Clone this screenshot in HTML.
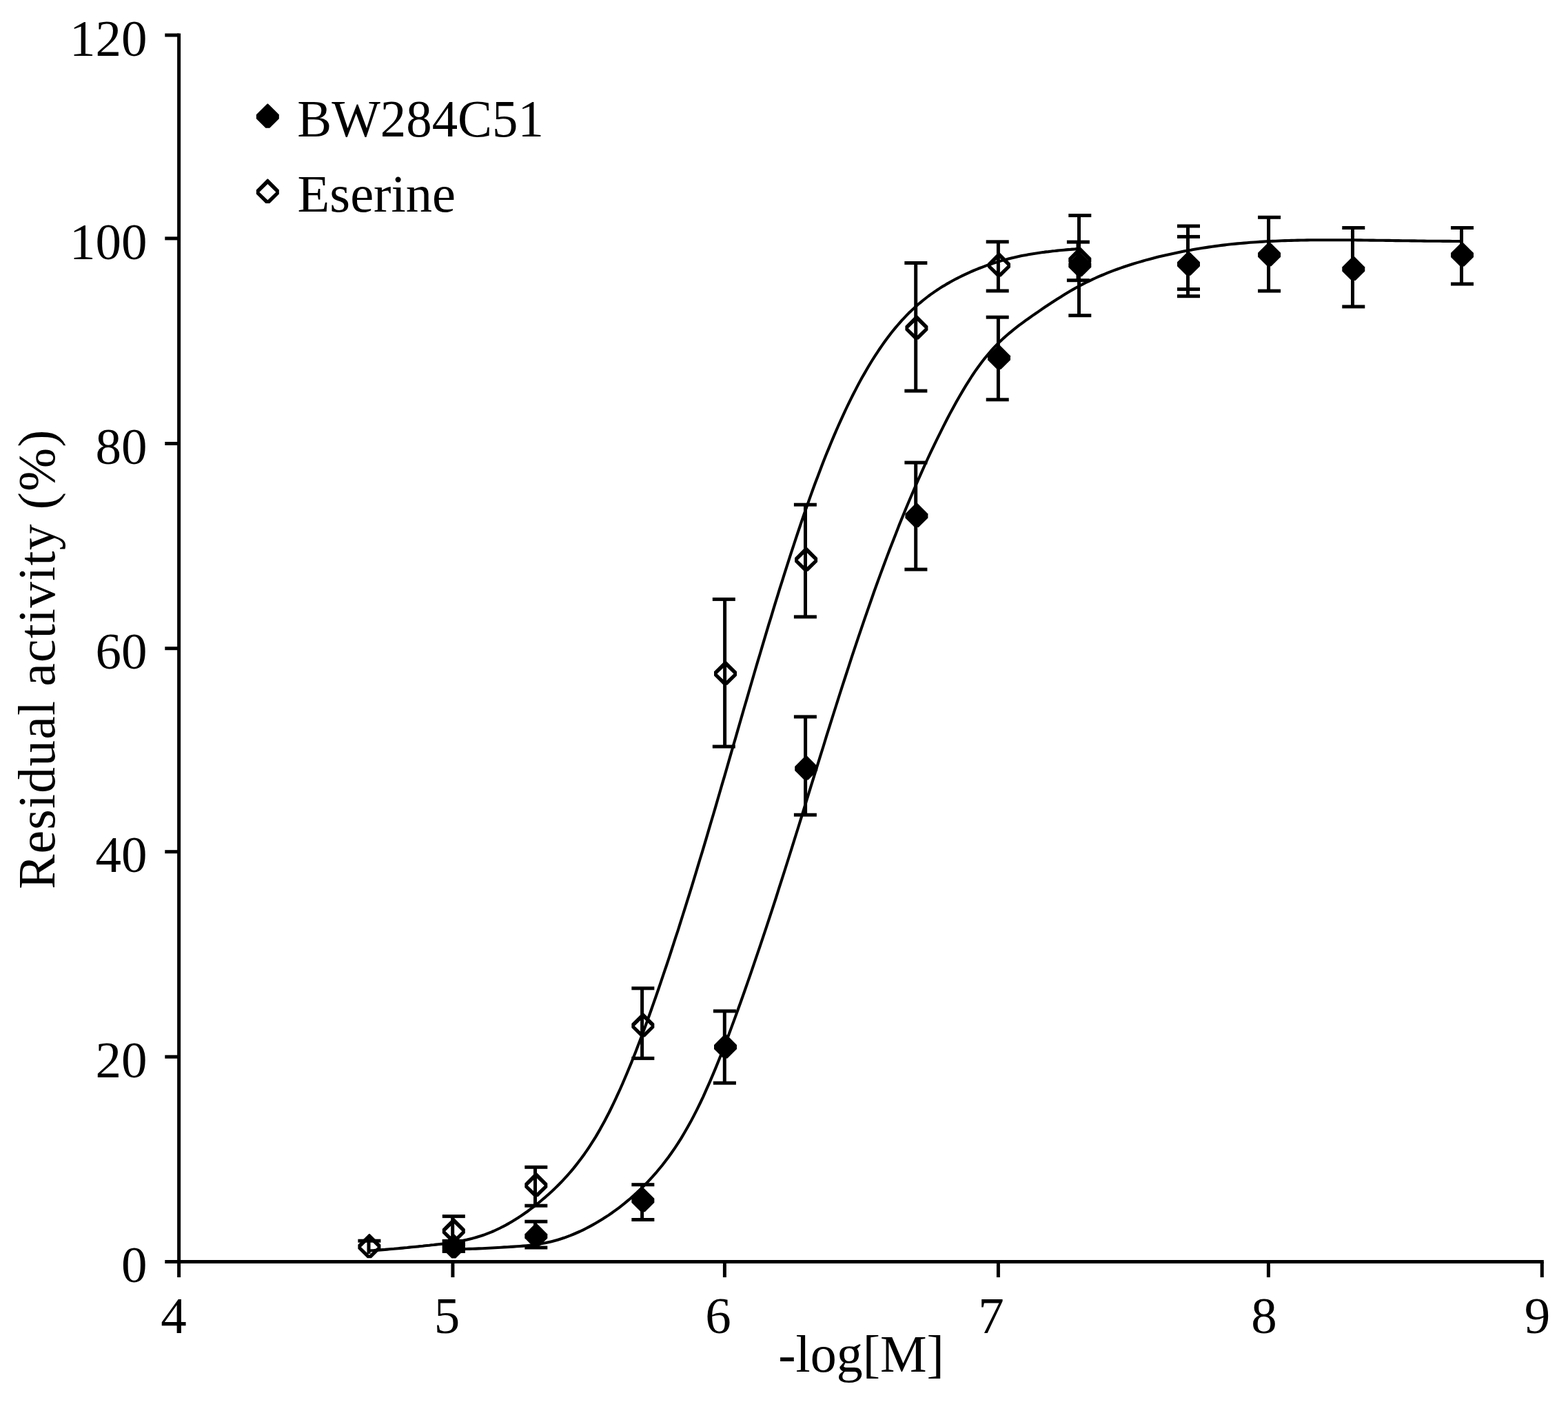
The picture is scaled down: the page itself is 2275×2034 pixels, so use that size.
<!DOCTYPE html>
<html lang="en">
<head>
<meta charset="utf-8">
<title>Residual activity vs -log[M]</title>
<style>
html,body{margin:0;padding:0;background:#fff;}
body{width:2275px;height:2034px;overflow:hidden;}
svg{display:block;}
</style>
</head>
<body>
<svg xmlns="http://www.w3.org/2000/svg" width="2275" height="2034" viewBox="0 0 2275 2034">
<rect x="0" y="0" width="2275" height="2034" fill="#fff"/>
<g fill="#000">
<rect x="257.10" y="48.50" width="5.00" height="1804.60"/>
<rect x="239.30" y="1828.00" width="2000.50" height="5.00"/>
<rect x="239.30" y="48.50" width="20.30" height="5.00"/>
<rect x="239.30" y="343.40" width="20.30" height="5.00"/>
<rect x="239.30" y="641.00" width="20.30" height="5.00"/>
<rect x="239.30" y="938.20" width="20.30" height="5.00"/>
<rect x="239.30" y="1233.20" width="20.30" height="5.00"/>
<rect x="239.30" y="1530.70" width="20.30" height="5.00"/>
<rect x="654.40" y="1830.50" width="5.00" height="22.60"/>
<rect x="1048.90" y="1830.50" width="5.00" height="22.60"/>
<rect x="1445.90" y="1830.50" width="5.00" height="22.60"/>
<rect x="1837.90" y="1830.50" width="5.00" height="22.60"/>
<rect x="2234.80" y="1830.50" width="5.00" height="22.60"/>
</g>
<path d="M536.0,1814.5 L539.2,1814.3 L542.4,1814.1 L545.7,1813.8 L548.9,1813.6 L552.1,1813.4 L555.3,1813.1 L558.5,1812.9 L561.8,1812.6 L565.0,1812.3 L568.2,1812.0 L571.4,1811.8 L574.6,1811.5 L577.8,1811.2 L581.1,1810.9 L584.3,1810.6 L587.5,1810.3 L590.7,1810.0 L593.9,1809.6 L597.2,1809.3 L600.4,1809.0 L603.6,1808.7 L606.8,1808.4 L610.0,1808.0 L613.3,1807.7 L616.5,1807.3 L619.7,1807.0 L622.9,1806.7 L626.1,1806.3 L629.4,1806.0 L632.6,1805.6 L635.8,1805.2 L639.0,1804.9 L642.2,1804.5 L645.5,1804.0 L648.7,1803.6 L651.9,1803.2 L655.1,1802.7 L658.3,1802.2 L661.5,1801.7 L664.8,1801.1 L668.0,1800.5 L671.2,1799.9 L674.4,1799.2 L677.6,1798.5 L680.9,1797.7 L684.1,1797.0 L687.3,1796.1 L690.5,1795.2 L693.7,1794.3 L697.0,1793.3 L700.2,1792.2 L703.4,1791.1 L706.6,1789.9 L709.8,1788.7 L713.1,1787.4 L716.3,1786.0 L719.5,1784.5 L722.7,1783.0 L725.9,1781.5 L729.1,1779.8 L732.4,1778.2 L735.6,1776.4 L738.8,1774.6 L742.0,1772.7 L745.2,1770.8 L748.5,1768.8 L751.7,1766.8 L754.9,1764.6 L758.1,1762.5 L761.3,1760.3 L764.6,1758.0 L767.8,1755.6 L771.0,1753.2 L774.2,1750.8 L777.4,1748.3 L780.7,1745.7 L783.9,1743.0 L787.1,1740.3 L790.3,1737.6 L793.5,1734.8 L796.7,1731.9 L800.0,1729.0 L803.2,1726.0 L806.4,1722.9 L809.6,1719.7 L812.8,1716.5 L816.1,1713.1 L819.3,1709.7 L822.5,1706.2 L825.7,1702.5 L828.9,1698.8 L832.2,1694.9 L835.4,1690.9 L838.6,1686.8 L841.8,1682.6 L845.0,1678.2 L848.3,1673.7 L851.5,1669.1 L854.7,1664.3 L857.9,1659.4 L861.1,1654.3 L864.4,1649.1 L867.6,1643.6 L870.8,1638.1 L874.0,1632.3 L877.2,1626.4 L880.4,1620.3 L883.7,1614.0 L886.9,1607.5 L890.1,1600.9 L893.3,1594.1 L896.5,1587.1 L899.8,1580.0 L903.0,1572.7 L906.2,1565.3 L909.4,1557.7 L912.6,1550.0 L915.9,1542.1 L919.1,1534.1 L922.3,1525.9 L925.5,1517.6 L928.7,1509.2 L932.0,1500.6 L935.2,1491.9 L938.4,1483.1 L941.6,1474.2 L944.8,1465.2 L948.0,1456.1 L951.3,1446.8 L954.5,1437.5 L957.7,1428.1 L960.9,1418.7 L964.1,1409.1 L967.4,1399.5 L970.6,1389.8 L973.8,1380.0 L977.0,1370.2 L980.2,1360.2 L983.5,1350.3 L986.7,1340.2 L989.9,1330.0 L993.1,1319.8 L996.3,1309.6 L999.6,1299.2 L1002.8,1288.8 L1006.0,1278.3 L1009.2,1267.8 L1012.4,1257.2 L1015.6,1246.5 L1018.9,1235.8 L1022.1,1225.1 L1025.3,1214.3 L1028.5,1203.4 L1031.7,1192.5 L1035.0,1181.5 L1038.2,1170.6 L1041.4,1159.5 L1044.6,1148.5 L1047.8,1137.4 L1051.1,1126.3 L1054.3,1115.2 L1057.5,1104.0 L1060.7,1092.9 L1063.9,1081.7 L1067.2,1070.6 L1070.4,1059.4 L1073.6,1048.3 L1076.8,1037.1 L1080.0,1026.0 L1083.3,1014.9 L1086.5,1003.8 L1089.7,992.8 L1092.9,981.8 L1096.1,970.8 L1099.3,959.9 L1102.6,949.0 L1105.8,938.1 L1109.0,927.3 L1112.2,916.6 L1115.4,905.9 L1118.7,895.3 L1121.9,884.7 L1125.1,874.2 L1128.3,863.8 L1131.5,853.4 L1134.8,843.1 L1138.0,832.9 L1141.2,822.8 L1144.4,812.8 L1147.6,802.8 L1150.9,792.9 L1154.1,783.2 L1157.3,773.5 L1160.5,764.0 L1163.7,754.5 L1166.9,745.2 L1170.2,736.0 L1173.4,726.9 L1176.6,717.9 L1179.8,709.0 L1183.0,700.3 L1186.3,691.7 L1189.5,683.2 L1192.7,674.8 L1195.9,666.6 L1199.1,658.5 L1202.4,650.6 L1205.6,642.8 L1208.8,635.1 L1212.0,627.6 L1215.2,620.2 L1218.5,612.9 L1221.7,605.8 L1224.9,598.8 L1228.1,592.0 L1231.3,585.3 L1234.5,578.8 L1237.8,572.3 L1241.0,566.1 L1244.2,559.9 L1247.4,553.9 L1250.6,548.1 L1253.9,542.4 L1257.1,536.8 L1260.3,531.3 L1263.5,526.0 L1266.7,520.8 L1270.0,515.7 L1273.2,510.8 L1276.4,506.0 L1279.6,501.3 L1282.8,496.8 L1286.1,492.3 L1289.3,488.0 L1292.5,483.8 L1295.7,479.8 L1298.9,475.9 L1302.2,472.0 L1305.4,468.3 L1308.6,464.7 L1311.8,461.3 L1315.0,457.9 L1318.2,454.6 L1321.5,451.5 L1324.7,448.4 L1327.9,445.5 L1331.1,442.6 L1334.3,439.8 L1337.6,437.1 L1340.8,434.5 L1344.0,432.0 L1347.2,429.5 L1350.4,427.2 L1353.7,424.9 L1356.9,422.6 L1360.1,420.5 L1363.3,418.4 L1366.5,416.3 L1369.8,414.4 L1373.0,412.4 L1376.2,410.6 L1379.4,408.8 L1382.6,407.0 L1385.8,405.3 L1389.1,403.6 L1392.3,402.0 L1395.5,400.4 L1398.7,398.8 L1401.9,397.3 L1405.2,395.8 L1408.4,394.4 L1411.6,393.0 L1414.8,391.6 L1418.0,390.3 L1421.3,389.0 L1424.5,387.8 L1427.7,386.6 L1430.9,385.4 L1434.1,384.3 L1437.4,383.2 L1440.6,382.1 L1443.8,381.1 L1447.0,380.1 L1450.2,379.1 L1453.4,378.1 L1456.7,377.2 L1459.9,376.4 L1463.1,375.5 L1466.3,374.7 L1469.5,373.9 L1472.8,373.2 L1476.0,372.5 L1479.2,371.8 L1482.4,371.1 L1485.6,370.5 L1488.9,369.9 L1492.1,369.3 L1495.3,368.7 L1498.5,368.2 L1501.7,367.7 L1505.0,367.2 L1508.2,366.7 L1511.4,366.3 L1514.6,365.9 L1517.8,365.4 L1521.1,365.1 L1524.3,364.7 L1527.5,364.3 L1530.7,364.0 L1533.9,363.6 L1537.1,363.3 L1540.4,363.0 L1543.6,362.7 L1546.8,362.4 L1550.0,362.1 L1553.2,361.9 L1556.5,361.6 L1559.7,361.4 L1562.9,361.1" fill="none" stroke="#000" stroke-width="4.1" stroke-linejoin="round" stroke-linecap="butt"/>
<path d="M658.0,1812.1 L662.6,1812.2 L667.2,1812.2 L671.8,1812.1 L676.3,1812.0 L680.9,1811.9 L685.5,1811.8 L690.1,1811.6 L694.7,1811.4 L699.3,1811.2 L703.9,1811.0 L708.5,1810.7 L713.0,1810.5 L717.6,1810.2 L722.2,1810.0 L726.8,1809.7 L731.4,1809.4 L736.0,1809.2 L740.6,1808.9 L745.1,1808.6 L749.7,1808.3 L754.3,1808.0 L758.9,1807.6 L763.5,1807.2 L768.1,1806.7 L772.7,1806.2 L777.3,1805.6 L781.8,1804.9 L786.4,1804.1 L791.0,1803.3 L795.6,1802.3 L800.2,1801.2 L804.8,1800.0 L809.4,1798.7 L814.0,1797.3 L818.5,1795.8 L823.1,1794.1 L827.7,1792.4 L832.3,1790.5 L836.9,1788.5 L841.5,1786.5 L846.1,1784.3 L850.6,1782.0 L855.2,1779.6 L859.8,1777.1 L864.4,1774.5 L869.0,1771.8 L873.6,1769.0 L878.2,1766.1 L882.8,1763.1 L887.3,1760.0 L891.9,1756.7 L896.5,1753.3 L901.1,1749.8 L905.7,1746.2 L910.3,1742.4 L914.9,1738.5 L919.4,1734.5 L924.0,1730.3 L928.6,1725.9 L933.2,1721.4 L937.8,1716.8 L942.4,1711.9 L947.0,1706.9 L951.6,1701.7 L956.1,1696.3 L960.7,1690.7 L965.3,1684.8 L969.9,1678.7 L974.5,1672.3 L979.1,1665.6 L983.7,1658.7 L988.3,1651.4 L992.8,1643.8 L997.4,1635.8 L1002.0,1627.6 L1006.6,1618.9 L1011.2,1609.9 L1015.8,1600.5 L1020.4,1590.8 L1024.9,1580.7 L1029.5,1570.3 L1034.1,1559.6 L1038.7,1548.6 L1043.3,1537.3 L1047.9,1525.7 L1052.5,1513.9 L1057.1,1501.8 L1061.6,1489.6 L1066.2,1477.1 L1070.8,1464.5 L1075.4,1451.7 L1080.0,1438.7 L1084.6,1425.6 L1089.2,1412.4 L1093.7,1399.1 L1098.3,1385.7 L1102.9,1372.1 L1107.5,1358.4 L1112.1,1344.6 L1116.7,1330.7 L1121.3,1316.6 L1125.9,1302.5 L1130.4,1288.2 L1135.0,1273.9 L1139.6,1259.5 L1144.2,1245.0 L1148.8,1230.4 L1153.4,1215.7 L1158.0,1201.0 L1162.6,1186.2 L1167.1,1171.4 L1171.7,1156.6 L1176.3,1141.7 L1180.9,1126.9 L1185.5,1112.0 L1190.1,1097.2 L1194.7,1082.5 L1199.2,1067.7 L1203.8,1053.1 L1208.4,1038.5 L1213.0,1024.0 L1217.6,1009.5 L1222.2,995.2 L1226.8,981.0 L1231.4,966.9 L1235.9,952.9 L1240.5,939.1 L1245.1,925.4 L1249.7,911.8 L1254.3,898.4 L1258.9,885.1 L1263.5,872.0 L1268.0,859.0 L1272.6,846.2 L1277.2,833.6 L1281.8,821.2 L1286.4,808.9 L1291.0,796.8 L1295.6,784.9 L1300.2,773.2 L1304.7,761.6 L1309.3,750.2 L1313.9,739.0 L1318.5,728.0 L1323.1,717.2 L1327.7,706.5 L1332.3,696.0 L1336.9,685.7 L1341.4,675.5 L1346.0,665.5 L1350.6,655.7 L1355.2,646.1 L1359.8,636.6 L1364.4,627.3 L1369.0,618.1 L1373.5,609.2 L1378.1,600.4 L1382.7,591.9 L1387.3,583.5 L1391.9,575.4 L1396.5,567.6 L1401.1,559.9 L1405.7,552.6 L1410.2,545.5 L1414.8,538.7 L1419.4,532.2 L1424.0,526.0 L1428.6,520.1 L1433.2,514.5 L1437.8,509.2 L1442.3,504.2 L1446.9,499.4 L1451.5,494.9 L1456.1,490.6 L1460.7,486.5 L1465.3,482.6 L1469.9,478.8 L1474.5,475.2 L1479.0,471.7 L1483.6,468.3 L1488.2,464.9 L1492.8,461.7 L1497.4,458.4 L1502.0,455.3 L1506.6,452.1 L1511.2,448.9 L1515.7,445.8 L1520.3,442.7 L1524.9,439.7 L1529.5,436.7 L1534.1,433.8 L1538.7,430.9 L1543.3,428.0 L1547.8,425.2 L1552.4,422.5 L1557.0,419.9 L1561.6,417.3 L1566.2,414.8 L1570.8,412.4 L1575.4,410.0 L1580.0,407.8 L1584.5,405.6 L1589.1,403.5 L1593.7,401.4 L1598.3,399.5 L1602.9,397.6 L1607.5,395.7 L1612.1,393.9 L1616.6,392.2 L1621.2,390.5 L1625.8,388.9 L1630.4,387.3 L1635.0,385.8 L1639.6,384.3 L1644.2,382.8 L1648.8,381.4 L1653.3,380.1 L1657.9,378.7 L1662.5,377.4 L1667.1,376.2 L1671.7,375.0 L1676.3,373.8 L1680.9,372.6 L1685.5,371.5 L1690.0,370.4 L1694.6,369.4 L1699.2,368.4 L1703.8,367.4 L1708.4,366.4 L1713.0,365.5 L1717.6,364.6 L1722.1,363.7 L1726.7,362.9 L1731.3,362.1 L1735.9,361.3 L1740.5,360.5 L1745.1,359.8 L1749.7,359.1 L1754.3,358.4 L1758.8,357.7 L1763.4,357.1 L1768.0,356.5 L1772.6,355.9 L1777.2,355.4 L1781.8,354.8 L1786.4,354.3 L1790.9,353.9 L1795.5,353.4 L1800.1,353.0 L1804.7,352.6 L1809.3,352.2 L1813.9,351.8 L1818.5,351.5 L1823.1,351.2 L1827.6,350.9 L1832.2,350.6 L1836.8,350.3 L1841.4,350.1 L1846.0,349.9 L1850.6,349.7 L1855.2,349.5 L1859.8,349.3 L1864.3,349.1 L1868.9,349.0 L1873.5,348.9 L1878.1,348.7 L1882.7,348.6 L1887.3,348.5 L1891.9,348.5 L1896.4,348.4 L1901.0,348.3 L1905.6,348.3 L1910.2,348.2 L1914.8,348.2 L1919.4,348.2 L1924.0,348.2 L1928.6,348.2 L1933.1,348.2 L1937.7,348.2 L1942.3,348.2 L1946.9,348.2 L1951.5,348.2 L1956.1,348.3 L1960.7,348.3 L1965.2,348.3 L1969.8,348.4 L1974.4,348.4 L1979.0,348.5 L1983.6,348.5 L1988.2,348.6 L1992.8,348.6 L1997.4,348.7 L2001.9,348.7 L2006.5,348.8 L2011.1,348.9 L2015.7,348.9 L2020.3,349.0 L2024.9,349.1 L2029.5,349.1 L2034.1,349.2 L2038.6,349.2 L2043.2,349.3 L2047.8,349.4 L2052.4,349.4 L2057.0,349.5 L2061.6,349.5 L2066.2,349.6 L2070.7,349.7 L2075.3,349.7 L2079.9,349.7 L2084.5,349.8 L2089.1,349.8 L2093.7,349.9 L2098.3,349.9 L2102.9,349.9 L2107.4,350.0 L2112.0,350.0 L2116.6,350.0 L2121.2,350.0" fill="none" stroke="#000" stroke-width="4.1" stroke-linejoin="round" stroke-linecap="butt"/>
<g fill="#000">
<rect x="532.50" y="1800.20" width="5.00" height="18.80"/>
<rect x="519.40" y="1797.70" width="33.00" height="5.00"/>
<rect x="654.20" y="1764.60" width="5.00" height="40.40"/>
<rect x="641.80" y="1762.10" width="33.00" height="5.00"/>
<rect x="641.80" y="1802.50" width="33.00" height="5.00"/>
<rect x="774.00" y="1693.30" width="5.00" height="55.90"/>
<rect x="761.30" y="1690.80" width="33.00" height="5.00"/>
<rect x="761.30" y="1746.70" width="33.00" height="5.00"/>
<rect x="929.10" y="1433.80" width="5.00" height="101.60"/>
<rect x="916.35" y="1431.30" width="33.00" height="5.00"/>
<rect x="916.35" y="1532.90" width="33.00" height="5.00"/>
<rect x="1049.10" y="869.40" width="5.00" height="213.70"/>
<rect x="1033.80" y="866.90" width="33.00" height="5.00"/>
<rect x="1033.80" y="1080.60" width="33.00" height="5.00"/>
<rect x="1166.00" y="732.20" width="5.00" height="162.70"/>
<rect x="1151.90" y="729.70" width="33.00" height="5.00"/>
<rect x="1151.90" y="892.40" width="33.00" height="5.00"/>
<rect x="1326.20" y="381.50" width="5.00" height="185.60"/>
<rect x="1312.35" y="379.00" width="33.00" height="5.00"/>
<rect x="1312.35" y="564.60" width="33.00" height="5.00"/>
<rect x="1445.90" y="350.80" width="5.00" height="71.20"/>
<rect x="1430.70" y="348.30" width="33.00" height="5.00"/>
<rect x="1430.70" y="419.50" width="33.00" height="5.00"/>
<rect x="1561.50" y="351.10" width="5.00" height="55.60"/>
<rect x="1547.90" y="348.60" width="33.00" height="5.00"/>
<rect x="1547.90" y="404.20" width="33.00" height="5.00"/>
<rect x="654.20" y="1800.40" width="5.00" height="14.90"/>
<rect x="641.80" y="1797.90" width="33.00" height="5.00"/>
<rect x="641.80" y="1812.80" width="33.00" height="5.00"/>
<rect x="774.00" y="1772.20" width="5.00" height="37.80"/>
<rect x="761.30" y="1769.70" width="33.00" height="5.00"/>
<rect x="761.30" y="1807.50" width="33.00" height="5.00"/>
<rect x="929.10" y="1718.70" width="5.00" height="50.80"/>
<rect x="916.35" y="1716.20" width="33.00" height="5.00"/>
<rect x="916.35" y="1767.00" width="33.00" height="5.00"/>
<rect x="1048.80" y="1466.90" width="5.00" height="104.30"/>
<rect x="1034.90" y="1464.40" width="33.00" height="5.00"/>
<rect x="1034.90" y="1568.70" width="33.00" height="5.00"/>
<rect x="1166.10" y="1039.90" width="5.00" height="142.30"/>
<rect x="1151.90" y="1037.40" width="33.00" height="5.00"/>
<rect x="1151.90" y="1179.70" width="33.00" height="5.00"/>
<rect x="1326.20" y="671.10" width="5.00" height="155.00"/>
<rect x="1312.40" y="668.60" width="33.00" height="5.00"/>
<rect x="1312.40" y="823.60" width="33.00" height="5.00"/>
<rect x="1445.90" y="460.20" width="5.00" height="119.60"/>
<rect x="1430.70" y="457.70" width="33.00" height="5.00"/>
<rect x="1430.70" y="577.30" width="33.00" height="5.00"/>
<rect x="1563.00" y="312.60" width="5.00" height="145.10"/>
<rect x="1550.30" y="310.10" width="33.00" height="5.00"/>
<rect x="1550.30" y="455.20" width="33.00" height="5.00"/>
<rect x="1721.00" y="328.00" width="5.00" height="101.70"/>
<rect x="1708.00" y="325.50" width="33.00" height="5.00"/>
<rect x="1708.00" y="427.20" width="33.00" height="5.00"/>
<rect x="1721.00" y="343.40" width="5.00" height="76.20"/>
<rect x="1708.00" y="340.90" width="33.00" height="5.00"/>
<rect x="1708.00" y="417.10" width="33.00" height="5.00"/>
<rect x="1838.10" y="315.30" width="5.00" height="106.80"/>
<rect x="1825.10" y="312.80" width="33.00" height="5.00"/>
<rect x="1825.10" y="419.60" width="33.00" height="5.00"/>
<rect x="1960.00" y="330.50" width="5.00" height="114.40"/>
<rect x="1947.30" y="328.00" width="33.00" height="5.00"/>
<rect x="1947.30" y="442.40" width="33.00" height="5.00"/>
<rect x="2118.00" y="330.50" width="5.00" height="81.50"/>
<rect x="2105.00" y="328.00" width="33.00" height="5.00"/>
<rect x="2105.00" y="409.50" width="33.00" height="5.00"/>
<rect x="641.80" y="1798.00" width="33.00" height="19.80"/>
<path fill-rule="evenodd" d="M535.30,1789.95 L536.50,1789.95 L552.40,1805.85 L552.40,1811.85 L538.80,1825.35 L533.00,1825.35 L519.40,1811.85 L519.40,1805.85Z M523.90,1809.15 L535.90,1820.65 L547.90,1809.15 L535.90,1797.45Z"/>
<path fill-rule="evenodd" d="M657.70,1767.00 L658.90,1767.00 L674.80,1782.90 L674.80,1788.90 L661.20,1802.40 L655.40,1802.40 L641.80,1788.90 L641.80,1782.90Z M646.30,1786.20 L658.30,1797.70 L670.30,1786.20 L658.30,1774.50Z"/>
<path fill-rule="evenodd" d="M777.20,1700.80 L778.40,1700.80 L794.30,1716.70 L794.30,1722.70 L780.70,1736.20 L774.90,1736.20 L761.30,1722.70 L761.30,1716.70Z M765.80,1720.00 L777.80,1731.50 L789.80,1720.00 L777.80,1708.30Z"/>
<path fill-rule="evenodd" d="M932.25,1469.20 L933.45,1469.20 L949.35,1485.10 L949.35,1491.10 L935.75,1504.60 L929.95,1504.60 L916.35,1491.10 L916.35,1485.10Z M920.85,1488.40 L932.85,1499.90 L944.85,1488.40 L932.85,1476.70Z"/>
<path fill-rule="evenodd" d="M1051.90,958.40 L1053.10,958.40 L1069.00,974.30 L1069.00,980.30 L1055.40,993.80 L1049.60,993.80 L1036.00,980.30 L1036.00,974.30Z M1040.50,977.60 L1052.50,989.10 L1064.50,977.60 L1052.50,965.90Z"/>
<path fill-rule="evenodd" d="M1169.00,793.30 L1170.20,793.30 L1186.10,809.20 L1186.10,815.20 L1172.50,828.70 L1166.70,828.70 L1153.10,815.20 L1153.10,809.20Z M1157.60,812.50 L1169.60,824.00 L1181.60,812.50 L1169.60,800.80Z"/>
<path fill-rule="evenodd" d="M1329.30,457.10 L1330.50,457.10 L1346.40,473.00 L1346.40,479.00 L1332.80,492.50 L1327.00,492.50 L1313.40,479.00 L1313.40,473.00Z M1317.90,476.30 L1329.90,487.80 L1341.90,476.30 L1329.90,464.60Z"/>
<path fill-rule="evenodd" d="M1448.90,366.10 L1450.10,366.10 L1466.00,382.00 L1466.00,388.00 L1452.40,401.50 L1446.60,401.50 L1433.00,388.00 L1433.00,382.00Z M1437.50,385.30 L1449.50,396.80 L1461.50,385.30 L1449.50,373.60Z"/>
<path fill-rule="evenodd" d="M1566.20,358.30 L1567.40,358.30 L1583.30,374.20 L1583.30,380.20 L1569.70,393.70 L1563.90,393.70 L1550.30,380.20 L1550.30,374.20Z M1554.80,377.50 L1566.80,389.00 L1578.80,377.50 L1566.80,365.80Z"/>
<path d="M657.70,1790.20 L658.90,1790.20 L674.80,1806.10 L674.80,1812.10 L661.20,1825.60 L655.40,1825.60 L641.80,1812.10 L641.80,1806.10Z"/>
<path d="M777.20,1774.50 L778.40,1774.50 L794.30,1790.40 L794.30,1796.40 L780.70,1809.90 L774.90,1809.90 L761.30,1796.40 L761.30,1790.40Z"/>
<path d="M932.25,1722.90 L933.45,1722.90 L949.35,1738.80 L949.35,1744.80 L935.75,1758.30 L929.95,1758.30 L916.35,1744.80 L916.35,1738.80Z"/>
<path d="M1051.90,1500.00 L1053.10,1500.00 L1069.00,1515.90 L1069.00,1521.90 L1055.40,1535.40 L1049.60,1535.40 L1036.00,1521.90 L1036.00,1515.90Z"/>
<path d="M1169.10,1096.10 L1170.30,1096.10 L1186.20,1112.00 L1186.20,1118.00 L1172.60,1131.50 L1166.80,1131.50 L1153.20,1118.00 L1153.20,1112.00Z"/>
<path d="M1329.30,729.50 L1330.50,729.50 L1346.40,745.40 L1346.40,751.40 L1332.80,764.90 L1327.00,764.90 L1313.40,751.40 L1313.40,745.40Z"/>
<path d="M1448.90,500.30 L1450.10,500.30 L1466.00,516.20 L1466.00,522.20 L1452.40,535.70 L1446.60,535.70 L1433.00,522.20 L1433.00,516.20Z"/>
<path d="M1566.20,365.90 L1567.40,365.90 L1583.30,381.80 L1583.30,387.80 L1569.70,401.30 L1563.90,401.30 L1550.30,387.80 L1550.30,381.80Z"/>
<path d="M1723.90,364.40 L1725.10,364.40 L1741.00,380.30 L1741.00,386.30 L1727.40,399.80 L1721.60,399.80 L1708.00,386.30 L1708.00,380.30Z"/>
<path d="M1841.00,350.90 L1842.20,350.90 L1858.10,366.80 L1858.10,372.80 L1844.50,386.30 L1838.70,386.30 L1825.10,372.80 L1825.10,366.80Z"/>
<path d="M1963.20,371.60 L1964.40,371.60 L1980.30,387.50 L1980.30,393.50 L1966.70,407.00 L1960.90,407.00 L1947.30,393.50 L1947.30,387.50Z"/>
<path d="M2120.90,351.20 L2122.10,351.20 L2138.00,367.10 L2138.00,373.10 L2124.40,386.60 L2118.60,386.60 L2105.00,373.10 L2105.00,367.10Z"/>
<path d="M387.75,150.40 L388.95,150.40 L404.85,166.30 L404.85,172.30 L391.25,185.80 L385.45,185.80 L371.85,172.30 L371.85,166.30Z"/>
<path fill-rule="evenodd" d="M387.75,259.50 L388.95,259.50 L404.85,275.40 L404.85,281.40 L391.25,294.90 L385.45,294.90 L371.85,281.40 L371.85,275.40Z M376.35,278.70 L388.35,290.20 L400.35,278.70 L388.35,267.00Z"/>
</g>
<g font-family="'Liberation Serif', 'Times New Roman', Times, serif" font-size="76px" fill="#000">
<text x="213.6" y="80.6" text-anchor="end" font-size="75px">120</text>
<text x="213.6" y="375.5" text-anchor="end" font-size="75px">100</text>
<text x="213.6" y="673.1" text-anchor="end" font-size="75px">80</text>
<text x="213.6" y="970.3" text-anchor="end" font-size="75px">60</text>
<text x="213.6" y="1265.3" text-anchor="end" font-size="75px">40</text>
<text x="213.6" y="1562.8" text-anchor="end" font-size="75px">20</text>
<text x="213.6" y="1860.1" text-anchor="end" font-size="75px">0</text>
<text x="252.0" y="1934.0" text-anchor="middle" font-size="75px">4</text>
<text x="648.4" y="1934.0" text-anchor="middle" font-size="75px">5</text>
<text x="1042.0" y="1934.0" text-anchor="middle" font-size="75px">6</text>
<text x="1437.9" y="1934.0" text-anchor="middle" font-size="75px">7</text>
<text x="1834.0" y="1934.0" text-anchor="middle" font-size="75px">8</text>
<text x="2230.5" y="1934.0" text-anchor="middle" font-size="75px">9</text>
<text x="431.3" y="198.1" textLength="357.5" lengthAdjust="spacingAndGlyphs">BW284C51</text>
<text x="431.6" y="307.3" textLength="229.5" lengthAdjust="spacingAndGlyphs">Eserine</text>
<text x="1249.6" y="1990.2" text-anchor="middle">-log[M]</text>
<text transform="translate(79.3,1290) rotate(-90)" font-size="75.5px" textLength="666.5" lengthAdjust="spacing">Residual activity (%)</text>
</g>
</svg>
</body>
</html>
